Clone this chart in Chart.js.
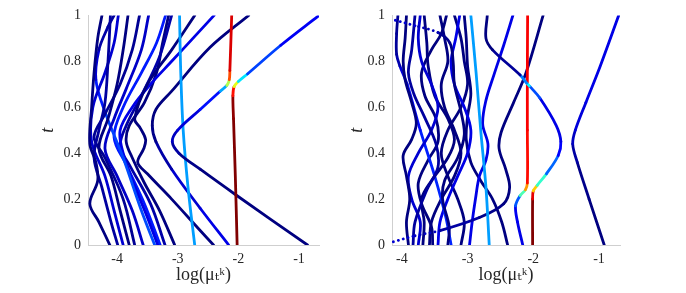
<!DOCTYPE html>
<html>
<head>
<meta charset="utf-8">
<script src="https://cdn.jsdelivr.net/npm/chart.js@4"></script>
<style>
  body { margin: 0; background: #fff; }
  .panel { position: absolute; top: 0; width: 343px; height: 293px; }
</style>
</head>
<body>
<div class="panel" style="left:0"><canvas id="leftChart" width="343" height="293"></canvas></div>
<div class="panel" style="left:343px"><canvas id="rightChart" width="343" height="293"></canvas></div>
<script>
// tick labels
const xTicks = [-4, -3, -2, -1];
const yTicks = [0, 0.2, 0.4, 0.6, 0.8, 1];
const xTitle = 'log(μₜᵏ)';
const yTitle = 't';

// left panel: each path is a list of [log mu, t] knots, shades are jet levels
const leftPaths = [
    [[-2.02,0],[-2.05,0.3],[-2.08,0.55],[-2.09,0.65],[-2.07,0.69],[-2.0,0.712],[-1.85,0.745],[-1.3,0.87],[-0.67,1]],
    [[-0.86,0],[-2.05,0.22],[-2.63,0.33],[-2.98,0.4],[-3.09,0.45],[-3.0,0.5],[-2.63,0.59],[-2.3,0.67],[-2.19,0.695],[-2.15,0.72],[-2.14,0.76],[-2.11,1]],
    [[-2.72,0],[-2.83,0.25],[-2.91,0.5],[-2.95,0.75],[-2.97,1]],
    [[-2.16,0],[-2.63,0.16],[-3.1,0.33],[-3.36,0.45],[-3.42,0.52],[-3.36,0.59],[-3.1,0.67],[-2.47,0.86],[-1.83,1]],
    [[-2.41,0],[-2.63,0.063],[-3.1,0.2],[-3.5,0.31],[-3.66,0.36],[-3.56,0.42],[-3.53,0.46],[-3.62,0.51],[-3.71,0.55],[-3.5,0.7],[-3.1,0.85],[-2.72,1]],
    [[-4.12,0],[-4.3,0.1],[-4.45,0.18],[-4.32,0.28],[-4.35,0.36],[-4.45,0.44],[-4.42,0.6],[-4.38,0.75],[-4.32,0.9],[-4.25,1]],
    [[-3.99,0],[-4.1,0.1],[-4.25,0.25],[-4.38,0.38],[-4.3,0.5],[-4.2,0.62],[-4.15,0.8],[-4.11,1]],
    [[-3.9,0],[-4.05,0.15],[-4.2,0.3],[-4.42,0.45],[-4.4,0.6],[-4.2,0.75],[-4.05,0.88],[-3.98,1]],
    [[-3.8,0],[-3.95,0.15],[-4.1,0.3],[-4.3,0.42],[-4.15,0.55],[-4.0,0.7],[-3.9,0.85],[-3.82,1]],
    [[-3.71,0],[-3.9,0.2],[-4.2,0.38],[-4.38,0.47],[-4.2,0.57],[-3.95,0.7],[-3.75,0.85],[-3.63,1]],
    [[-3.57,0],[-3.75,0.15],[-4.0,0.3],[-4.2,0.42],[-4.05,0.55],[-3.85,0.68],[-3.6,0.85],[-3.48,1]],
    [[-3.38,0],[-3.6,0.15],[-3.9,0.38],[-4.2,0.58],[-4.35,0.72],[-4.3,0.85],[-4.15,0.95],[-4.05,1]],
    [[-3.33,0],[-3.5,0.12],[-3.7,0.25],[-3.9,0.4],[-3.95,0.5],[-3.75,0.6],[-3.45,0.7],[-3.1,0.8],[-2.75,0.9],[-2.4,1]],
    [[-3.29,0],[-3.55,0.18],[-3.85,0.35],[-4.05,0.47],[-3.9,0.6],[-3.6,0.75],[-3.35,0.88],[-3.2,1]],
    [[-3.21,0],[-3.45,0.18],[-3.8,0.35],[-3.95,0.43],[-3.85,0.52],[-3.6,0.65],[-3.3,0.82],[-3.1,1]],
    [[-3.05,0],[-3.3,0.15],[-3.55,0.27],[-3.75,0.38],[-3.85,0.45],[-3.8,0.52],[-3.55,0.62],[-3.35,0.75],[-3.25,0.88],[-3.15,1]]
];
const leftShades = [
    [1,1,1,0.97,0.75,0.45,0.25,0.13,0.1],
    [0,0,0,0.02,0.05,0.08,0.1,0.18,0.4,0.7,0.9,0.92],
    0.28,
    [0.1,0.1,0.06,0.02,0,0,0,0,0],
    0, 0, 0.03, 0.08, 0, 0.02, 0.07,
    [0.2,0.2,0.2,0.18,0.12,0.05,0.03,0.03],
    0.1, 0.15, 0.04, 0
];
const leftDots = [];

// right panel
const rightPaths = [
    [[-2.01,0],[-2.01,0.2],[-2.0,0.235],[-1.94,0.26],[-1.8,0.31],[-1.62,0.39],[-1.58,0.45],[-1.65,0.52],[-1.9,0.64],[-2.06,0.693],[-2.1,0.705],[-2.2,0.74],[-2.62,0.85],[-2.72,0.9],[-2.7,1]],
    [[-2.16,0],[-2.24,0.1],[-2.27,0.17],[-2.2,0.215],[-2.12,0.24],[-2.09,0.27],[-2.09,0.5],[-2.09,0.75],[-2.086,1]],
    [[-0.92,0],[-1.15,0.2],[-1.33,0.36],[-1.4,0.44],[-1.36,0.5],[-1.2,0.62],[-0.98,0.78],[-0.7,1]],
    [[-2.67,0],[-2.72,0.25],[-2.8,0.5],[-2.87,0.75],[-2.95,1]],
    [[-4.13,0.014],[-3.8,0.04],[-3.42,0.063],[-2.82,0.12],[-2.45,0.18],[-2.36,0.25],[-2.42,0.33],[-2.52,0.42],[-2.49,0.49],[-2.3,0.62],[-2.11,0.75],[-1.85,1]],
    [[-3.3,0],[-3.28,0.08],[-3.38,0.2],[-3.35,0.28],[-3.15,0.38],[-3.05,0.48],[-3.1,0.58],[-3.2,0.7],[-3.22,0.8],[-3.27,0.88],[-3.45,0.925],[-3.8,0.955],[-4.18,0.985]],
    [[-3.9,0],[-3.93,0.1],[-3.88,0.2],[-3.93,0.3],[-3.98,0.39],[-3.85,0.46],[-3.78,0.53],[-3.85,0.62],[-3.95,0.72],[-3.98,0.8],[-3.95,0.9],[-3.93,1]],
    [[-3.83,0],[-3.8,0.1],[-3.62,0.24],[-3.45,0.34],[-3.48,0.44],[-3.66,0.56],[-3.82,0.66],[-3.9,0.75],[-3.85,0.85],[-3.8,1]],
    [[-3.75,0],[-3.72,0.1],[-3.85,0.2],[-3.9,0.3],[-3.75,0.4],[-3.55,0.5],[-3.45,0.6],[-3.55,0.7],[-3.7,0.8],[-3.75,0.9],[-3.72,1]],
    [[-3.68,0],[-3.66,0.1],[-3.7,0.2],[-3.55,0.28],[-3.3,0.38],[-3.2,0.46],[-3.3,0.55],[-3.5,0.65],[-3.6,0.78],[-3.62,0.88],[-3.66,1]],
    [[-3.25,0],[-3.33,0.12],[-3.5,0.3],[-3.72,0.5],[-3.92,0.7],[-4.03,0.78],[-4.08,0.83],[-4.08,0.92],[-4.06,1]],
    [[-3.58,0],[-3.55,0.1],[-3.4,0.2],[-3.2,0.3],[-3.1,0.4],[-3.2,0.5],[-3.35,0.6],[-3.4,0.7],[-3.3,0.8],[-3.35,0.9],[-3.42,1]],
    [[-3.53,0],[-3.55,0.08],[-3.7,0.18],[-3.75,0.27],[-3.6,0.37],[-3.45,0.45],[-3.48,0.55],[-3.65,0.65],[-3.7,0.75],[-3.55,0.85],[-3.4,0.92],[-3.32,1]],
    [[-3.45,0],[-3.42,0.1],[-3.3,0.2],[-3.15,0.3],[-3.0,0.4],[-2.95,0.5],[-3.05,0.6],[-3.2,0.7],[-3.25,0.8],[-3.18,0.9],[-3.12,1]],
    [[-2.97,0],[-2.93,0.1],[-2.88,0.2],[-2.82,0.3],[-2.72,0.37],[-2.69,0.44],[-2.77,0.527],[-2.72,0.63],[-2.6,0.74],[-2.45,0.87],[-2.31,1]],
    [[-3.1,0],[-3.05,0.1],[-3.15,0.2],[-3.3,0.3],[-3.4,0.4],[-3.3,0.5],[-3.1,0.6],[-3.0,0.7],[-3.05,0.8],[-3.1,0.9],[-3.2,1]],
    [[-2.39,0],[-2.48,0.1],[-2.62,0.2],[-2.8,0.28],[-2.95,0.36],[-3.02,0.46],[-3.0,0.56],[-2.95,0.66],[-3.0,0.78],[-3.02,0.9],[-3.05,1]]
];
const rightShades = [
    [1,1,0.8,0.55,0.3,0.15,0.1,0.1,0.1,0.3,0.45,0.05,0,0,0],
    [0.1,0.1,0.12,0.3,0.6,0.85,0.88,0.88,0.88],
    [0,0,0.02,0.05,0.08,0.1,0.1,0.1],
    0.28,
    [0.08,0.08,0.05,0.02,0,0,0,0,0,0,0,0],
    [0,0,0,0,0,0,0,0,0,0,0.03,0.08,0.08],
    0, 0.03, 0.08, 0,
    [0.16,0.16,0.16,0.15,0.12,0.06,0.03,0.02,0.02],
    0, 0, 0.1, 0.1, 0, 0
];
// [path index, first dotted knot, last dotted knot]
const rightDots = [[4, 0, 2], [5, 10, 12]];

function jet(w) {
    const c = v => Math.round(255 * Math.max(0, Math.min(1, v)));
    const r = Math.min(4 * w - 1.5, -4 * w + 4.5);
    const g = Math.min(4 * w - 0.5, -4 * w + 3.5);
    const b = Math.min(4 * w + 0.5, -4 * w + 2.5);
    return `rgb(${c(r)},${c(g)},${c(b)})`;
}

function makeDatasets(paths, shades, dots) {
    return paths.map((path, i) => {
        const shade = shades[i];
        const dotted = dots.filter(d => d[0] === i);
        const ds = {
            data: path.map(p => ({ x: p[0], y: p[1] })),
            showLine: true,
            pointRadius: 0,
            borderWidth: 2.8,
            tension: 0.35,
            borderCapStyle: 'round',
            borderJoinStyle: 'round',
            borderColor: jet(Array.isArray(shade) ? shade[0] : shade)
        };
        const seg = {};
        if (Array.isArray(shade)) {
            seg.borderColor = ctx => jet((shade[ctx.p0DataIndex] + shade[ctx.p1DataIndex]) / 2);
        }
        if (dotted.length) {
            seg.borderDash = ctx => dotted.some(d => ctx.p0DataIndex >= d[1] && ctx.p1DataIndex <= d[2]) ? [0.1, 5] : [];
        }
        ds.segment = seg;
        return ds;
    });
}

function makeChart(el, paths, shades, dots, xMin, xMax, yWidth, padRight, titlePad) {
    const font = { family: "'Liberation Serif', 'DejaVu Serif', serif", size: 14 };
    return new Chart(el.getContext('2d'), {
        type: 'scatter',
        data: { datasets: makeDatasets(paths, shades, dots) },
        options: {
            responsive: false,
            animation: false,
            devicePixelRatio: 1,
            layout: { padding: { left: 0, right: padRight, top: 8, bottom: 0 } },
            plugins: { legend: { display: false }, tooltip: { enabled: false } },
            scales: {
                x: {
                    type: 'linear',
                    min: xMin,
                    max: xMax,
                    afterBuildTicks: s => { s.ticks = xTicks.map(v => ({ value: v })); },
                    afterFit: s => { s.height = 48; },
                    grid: { display: false, drawTicks: false },
                    border: { display: true, color: '#cfcfcf', width: 1 },
                    ticks: { color: '#262626', font: font, padding: 6, maxRotation: 0, callback: v => String(v) },
                    title: {
                        display: true,
                        text: xTitle,
                        color: '#262626',
                        font: { family: font.family, size: 18 },
                        padding: { top: 0, bottom: 7 }
                    }
                },
                y: {
                    type: 'linear',
                    min: 0,
                    max: 1,
                    afterBuildTicks: s => { s.ticks = yTicks.map(v => ({ value: v })); },
                    afterFit: s => { s.width = yWidth; },
                    grid: { display: false, drawTicks: false },
                    border: { display: true, color: '#cfcfcf', width: 1 },
                    ticks: { color: '#262626', font: font, padding: 7, callback: v => String(v) },
                    title: {
                        display: true,
                        text: yTitle,
                        color: '#262626',
                        font: { family: font.family, size: 18, style: 'italic' },
                        padding: { top: titlePad, bottom: 0 }
                    }
                }
            }
        }
    });
}

makeChart(document.getElementById('leftChart'), leftPaths, leftShades, leftDots, -4.48, -0.67, 88, 24, 37);
makeChart(document.getElementById('rightChart'), rightPaths, rightShades, rightDots, -4.15, -0.68, 49, 66, 3);
</script>
</body>
</html>
